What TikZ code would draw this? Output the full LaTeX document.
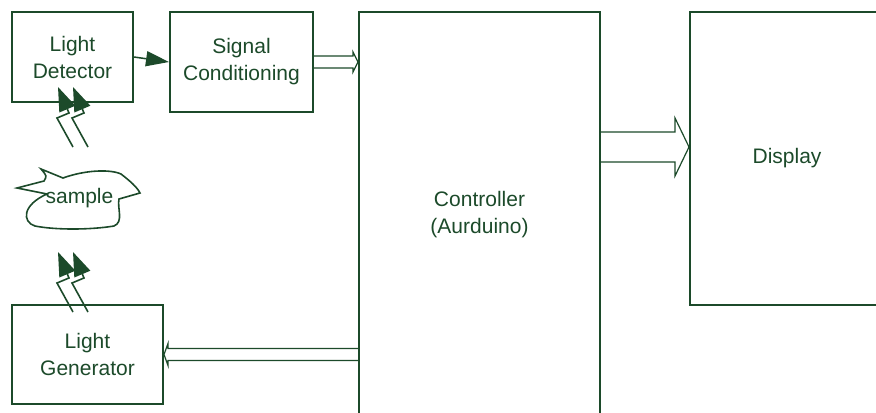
\documentclass[tikz,border=0pt]{standalone}
\usepackage{fontspec}
\setmainfont{Liberation Sans}
\usetikzlibrary{calc,arrows.meta}
\definecolor{leaf}{RGB}{28,74,42}

% open block arrow: from, tip, half shaft, half head, head base offset
\newcommand\blockarrow[5]{%
  \draw[hollow] ($(#1)+(0,-#3)$) -- ($(#2)+(#5,-#3)$) -- ($(#2)+(#5,-#4)$) -- (#2)
    -- ($(#2)+(#5,#4)$) -- ($(#2)+(#5,#3)$) -- ($(#1)+(0,#3)$);}

\begin{document}
\begin{tikzpicture}[x=0.5pt,y=-0.5pt,
  txt/.style={text=leaf,align=center,font=\fontsize{10.5}{13.5}\selectfont},
  box/.style={rectangle,draw=leaf,line width=1pt,txt},
  hollow/.style={draw=leaf,line width=0.6pt},
  ray/.style={draw=leaf,line width=0.8pt,-{Triangle[length=12pt,width=8.5pt]}}]
\useasboundingbox (0,0) rectangle (876,412);

\node[box,minimum width=60.5pt,minimum height=45pt] (det) at (72.5,57) {Light\\Detector};
\node[box,minimum width=71.5pt,minimum height=50pt] (sig) at (241.5,62) {Signal\\Conditioning};
\node[box,minimum width=120.5pt,minimum height=203pt] (ctrl) at (479.5,215) {Controller\\(Aurduino)};
\node[box,minimum width=130pt,minimum height=146.5pt,
  label={[txt,xshift=-16.5pt]center:Display}] (disp) at (820,158.5) {};
\node[box,minimum width=75.5pt,minimum height=49.5pt] (gen) at (87.5,354.5) {Light\\Generator};
\node[txt] (smp) at (79.5,198) {sample};

% sample blob
\draw[leaf,line width=0.8pt] (17,188) -- (44,181) .. controls (47,176) .. (41,169)
  -- (63,178) .. controls (85,170) and (110,169) .. (121,174)
  .. controls (130,181) and (137,187) .. (140,193) -- (119,199)
  .. controls (117,208) and (124,222) .. (114,226)
  .. controls (90,230) and (55,230) .. (35,226)
  .. controls (22,222) and (22,205) .. (47,194) -- cycle;

\draw[leaf,line width=0.75pt,-{Triangle[length=11.5pt,width=7.5pt]}] (det.east) -- (sig.west);

\coordinate (c1) at (ctrl.west |- sig.east);
\blockarrow{sig.east}{c1}{6}{10}{-5}
\coordinate (d) at ($(disp.west)+(0,-11.5)$);
\coordinate (d0) at (ctrl.east |- d);
\blockarrow{d0}{d}{15}{29}{-14}
\coordinate (c2) at (ctrl.west |- gen.east);
\blockarrow{c2}{gen.east}{6}{11}{4}

% light rays
\foreach \y in {0,165}
  \foreach \dx in {0,15}
    \draw[ray] (73+\dx,147+\y) -- ++(-16,-29) -- ++(12,-5) -- ++(-11,-26);
\end{tikzpicture}
\end{document}
